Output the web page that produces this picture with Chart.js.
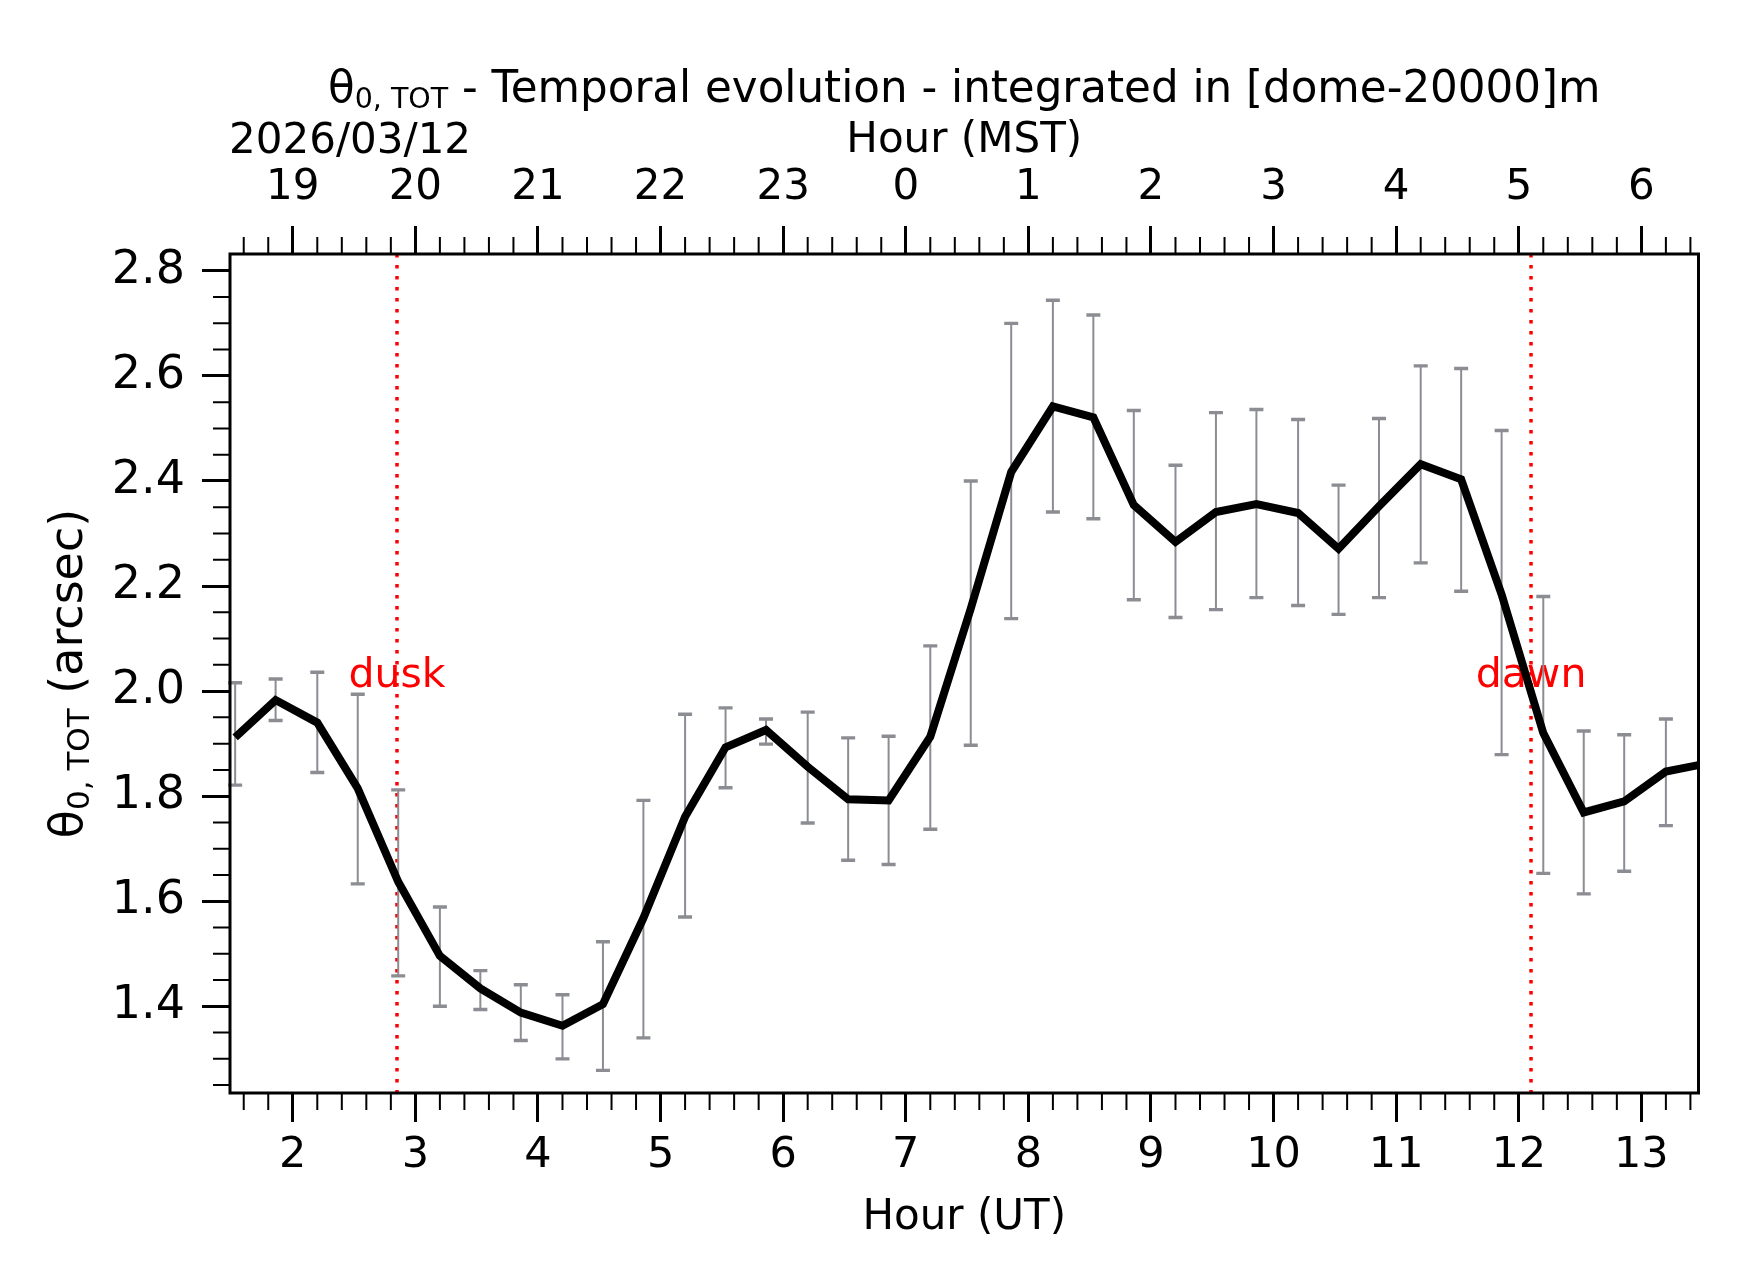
<!DOCTYPE html>
<html>
<head>
<meta charset="utf-8">
<title>theta0 TOT temporal evolution</title>
<script src="https://cdn.jsdelivr.net/npm/chart.js@4.4.0/dist/chart.umd.min.js"></script>
<style>
  html, body { margin: 0; padding: 0; background: #fff; }
  canvas { display: block; }
</style>
</head>
<body>
<canvas id="thetaChart" width="1742" height="1282"></canvas>
<script>
// ---- data ----
var utHours = [1.53, 1.86, 2.20, 2.53, 2.86, 3.20, 3.53, 3.86, 4.20, 4.53,
               4.86, 5.20, 5.53, 5.86, 6.20, 6.53, 6.86, 7.20, 7.53, 7.86,
               8.20, 8.53, 8.86, 9.20, 9.53, 9.86, 10.20, 10.53, 10.86, 11.20,
               11.53, 11.86, 12.20, 12.53, 12.86, 13.20, 13.53];
var thetaTot = [1.912, 1.983, 1.940, 1.815, 1.637, 1.496, 1.434, 1.388, 1.363, 1.404,
                1.568, 1.761, 1.893, 1.926, 1.856, 1.794, 1.792, 1.913, 2.157, 2.417,
                2.542, 2.521, 2.354, 2.284, 2.341, 2.356, 2.339, 2.271, 2.352, 2.432,
                2.403, 2.184, 1.920, 1.769, 1.790, 1.847, 1.862];
var errHigh = [2.016, 2.023, 2.036, 1.994, 1.812, 1.589, 1.468, 1.441, 1.422, 1.523,
               1.792, 1.956, 1.968, 1.947, 1.960, 1.911, 1.914, 2.086, 2.400, 2.700,
               2.744, 2.716, 2.534, 2.430, 2.530, 2.536, 2.517, 2.392, 2.519, 2.619,
               2.614, 2.496, 2.180, 1.924, 1.917, 1.947, null];
var errLow = [1.821, 1.944, 1.845, 1.633, 1.458, 1.400, 1.394, 1.335, 1.300, 1.278,
              1.340, 1.570, 1.816, 1.899, 1.749, 1.678, 1.670, 1.737, 1.897, 2.138,
              2.341, 2.328, 2.174, 2.140, 2.155, 2.178, 2.163, 2.146, 2.178, 2.244,
              2.190, 1.879, 1.653, 1.614, 1.657, 1.744, null];

var utMajorHours = [2, 3, 4, 5, 6, 7, 8, 9, 10, 11, 12, 13];
var utTickLabels = ['2', '3', '4', '5', '6', '7', '8', '9', '10', '11', '12', '13'];
var mstTickLabels = ['19', '20', '21', '22', '23', '0', '1', '2', '3', '4', '5', '6'];
var yMajorValues = [1.4, 1.6, 1.8, 2.0, 2.2, 2.4, 2.6, 2.8];
var yTickLabels = ['1.4', '1.6', '1.8', '2.0', '2.2', '2.4', '2.6', '2.8'];

var eventNames = ['dusk', 'dawn'];
var eventHours = [2.85, 12.10];
var dateLabel = '2026/03/12';

var FONT = '"DejaVu Sans", "Liberation Sans", sans-serif';
var BAR_GREY = '#8b8d93';

// minor tick positions (every 0.2 h and every 0.05 arcsec)
var xTickValues = [];
for (var k = 8; k <= 67; k++) xTickValues.push(k / 5);
var yTickValues = [];
for (var j = 25; j <= 56; j++) yTickValues.push(j / 20);

function findMajor(list, v) {
    for (var i = 0; i < list.length; i++) {
        if (Math.abs(list[i] - v) < 1e-6) return i;
    }
    return -1;
}

var points = utHours.map(function (h, i) {
    return { x: h, y: thetaTot[i] };
});

function drawRuns(ctx, runs, cx, baseline) {
    var total = 0;
    runs.forEach(function (r) {
        ctx.font = r.size + 'px ' + FONT;
        r.w = ctx.measureText(r.text).width;
        total += r.w;
    });
    var x = cx - total / 2;
    ctx.textAlign = 'left';
    ctx.textBaseline = 'alphabetic';
    runs.forEach(function (r) {
        ctx.font = r.size + 'px ' + FONT;
        ctx.fillText(r.text, x, baseline + r.dy);
        x += r.w;
    });
}

var thetaDecor = {
    id: 'thetaDecor',
    beforeDatasetsDraw: function (chart) {
        var ctx = chart.ctx, area = chart.chartArea;
        var xs = chart.scales.x, ys = chart.scales.y;
        ctx.save();
        // dusk / dawn markers
        eventHours.forEach(function (h, i) {
            var px = xs.getPixelForValue(h);
            ctx.strokeStyle = '#ff0000';
            ctx.lineWidth = 3.5;
            ctx.setLineDash([3.4, 7.6]);
            ctx.beginPath();
            ctx.moveTo(px, area.top);
            ctx.lineTo(px, area.bottom);
            ctx.stroke();
            ctx.setLineDash([]);
            ctx.fillStyle = '#ff0000';
            ctx.font = '41px ' + FONT;
            ctx.textAlign = 'center';
            ctx.textBaseline = 'middle';
            ctx.fillText(eventNames[i], px, (area.top + area.bottom) / 2 + 2.5);
        });
        // error bars
        ctx.strokeStyle = BAR_GREY;
        utHours.forEach(function (h, i) {
            if (errHigh[i] === null || errLow[i] === null) return;
            var px = xs.getPixelForValue(h);
            if (px < area.left || px > area.right) return;
            var yt = ys.getPixelForValue(errHigh[i]);
            var yb = ys.getPixelForValue(errLow[i]);
            ctx.lineWidth = 2;
            ctx.beginPath();
            ctx.moveTo(px, yt);
            ctx.lineTo(px, yb);
            ctx.stroke();
            ctx.lineWidth = 3.4;
            ctx.beginPath();
            ctx.moveTo(px - 7, yt); ctx.lineTo(px + 7, yt);
            ctx.moveTo(px - 7, yb); ctx.lineTo(px + 7, yb);
            ctx.stroke();
        });
        ctx.restore();
    },
    afterDraw: function (chart) {
        var ctx = chart.ctx, area = chart.chartArea;
        var xs = chart.scales.x, xt = chart.scales.x2, ys = chart.scales.y;
        ctx.save();
        // minor ticks
        ctx.strokeStyle = '#000';
        ctx.lineWidth = 2;
        ctx.beginPath();
        xTickValues.forEach(function (v) {
            if (findMajor(utMajorHours, v) >= 0) return;
            var px = xs.getPixelForValue(v);
            ctx.moveTo(px, area.bottom); ctx.lineTo(px, area.bottom + 17);
            px = xt.getPixelForValue(v);
            ctx.moveTo(px, area.top); ctx.lineTo(px, area.top - 17);
        });
        yTickValues.forEach(function (v) {
            if (findMajor(yMajorValues, v) >= 0) return;
            var py = ys.getPixelForValue(v);
            ctx.moveTo(area.left, py); ctx.lineTo(area.left - 17, py);
        });
        ctx.stroke();
        // frame
        ctx.lineWidth = 3;
        ctx.strokeRect(area.left, area.top, area.right - area.left, area.bottom - area.top);

        ctx.fillStyle = '#000';
        // main title with subscript
        drawRuns(ctx, [
            { text: 'θ', size: 43.6, dy: 0 },
            { text: '0, TOT', size: 28.5, dy: 6 },
            { text: ' - Temporal evolution - integrated in [dome-20000]m', size: 43.6, dy: 0 }
        ], (area.left + area.right) / 2, 102);

        // date label
        ctx.font = '42px ' + FONT;
        ctx.textAlign = 'left';
        ctx.textBaseline = 'middle';
        ctx.fillText(dateLabel, area.left - 1, 142);

        // y axis title (rotated)
        ctx.translate(82, (area.top + area.bottom) / 2);
        ctx.rotate(-Math.PI / 2);
        drawRuns(ctx, [
            { text: 'θ', size: 46, dy: 0 },
            { text: '0, TOT', size: 31, dy: 7 },
            { text: ' (arcsec)', size: 46, dy: 0 }
        ], 0, 0);
        ctx.restore();
    }
};

Chart.defaults.color = '#000';
Chart.defaults.font.family = FONT;

var ctx = document.getElementById('thetaChart').getContext('2d');
var chart = new Chart(ctx, {
    type: 'line',
    data: {
        datasets: [{
            label: 'theta0 TOT',
            data: points,
            borderColor: '#000',
            borderWidth: 8,
            borderJoinStyle: 'miter',
            pointRadius: 0,
            tension: 0,
            fill: false,
            clip: 0
        }]
    },
    options: {
        responsive: false,
        animation: false,
        devicePixelRatio: 1,
        layout: { padding: { left: 0, right: 43.5, top: 0, bottom: 0 } },
        plugins: {
            legend: { display: false },
            tooltip: { enabled: false }
        },
        scales: {
            x: {
                type: 'linear',
                position: 'bottom',
                min: 1.488,
                max: 13.466,
                afterBuildTicks: function (s) {
                    s.ticks = xTickValues.map(function (v) { return { value: v }; });
                },
                afterFit: function (s) { s.height = 189; },
                ticks: {
                    autoSkip: false,
                    maxRotation: 0,
                    minRotation: 0,
                    padding: 8,
                    font: { size: 43 },
                    callback: function (v) {
                        var i = findMajor(utMajorHours, v);
                        return i >= 0 ? utTickLabels[i] : '';
                    }
                },
                grid: {
                    drawOnChartArea: false,
                    tickLength: 29,
                    tickWidth: 3,
                    tickColor: function (c) {
                        return c.tick && findMajor(utMajorHours, c.tick.value) >= 0 ? '#000' : 'rgba(0,0,0,0)';
                    }
                },
                border: { display: false },
                title: {
                    display: true,
                    text: 'Hour (UT)',
                    font: { size: 42 },
                    padding: { top: 0, bottom: 38.5 }
                }
            },
            x2: {
                type: 'linear',
                position: 'top',
                min: 1.488,
                max: 13.466,
                afterBuildTicks: function (s) {
                    s.ticks = xTickValues.map(function (v) { return { value: v }; });
                },
                afterFit: function (s) { s.height = 254; },
                ticks: {
                    autoSkip: false,
                    maxRotation: 0,
                    minRotation: 0,
                    padding: 13,
                    font: { size: 42 },
                    callback: function (v) {
                        var i = findMajor(utMajorHours, v);
                        return i >= 0 ? mstTickLabels[i] : '';
                    }
                },
                grid: {
                    drawOnChartArea: false,
                    tickLength: 28,
                    tickWidth: 3,
                    tickColor: function (c) {
                        return c.tick && findMajor(utMajorHours, c.tick.value) >= 0 ? '#000' : 'rgba(0,0,0,0)';
                    }
                },
                border: { display: false },
                title: {
                    display: true,
                    text: 'Hour (MST)',
                    font: { size: 42 },
                    padding: { top: 115.5, bottom: 0 }
                }
            },
            y: {
                type: 'linear',
                position: 'left',
                min: 1.235,
                max: 2.832,
                afterBuildTicks: function (s) {
                    s.ticks = yTickValues.map(function (v) { return { value: v }; });
                },
                afterFit: function (s) { s.width = 230; },
                ticks: {
                    autoSkip: false,
                    padding: 17,
                    font: { size: 46 },
                    callback: function (v) {
                        var i = findMajor(yMajorValues, v);
                        return i >= 0 ? yTickLabels[i] : '';
                    }
                },
                grid: {
                    drawOnChartArea: false,
                    tickLength: 28,
                    tickWidth: 3,
                    tickColor: function (c) {
                        return c.tick && findMajor(yMajorValues, c.tick.value) >= 0 ? '#000' : 'rgba(0,0,0,0)';
                    }
                },
                border: { display: false }
            }
        }
    },
    plugins: [thetaDecor]
});
</script>
</body>
</html>
